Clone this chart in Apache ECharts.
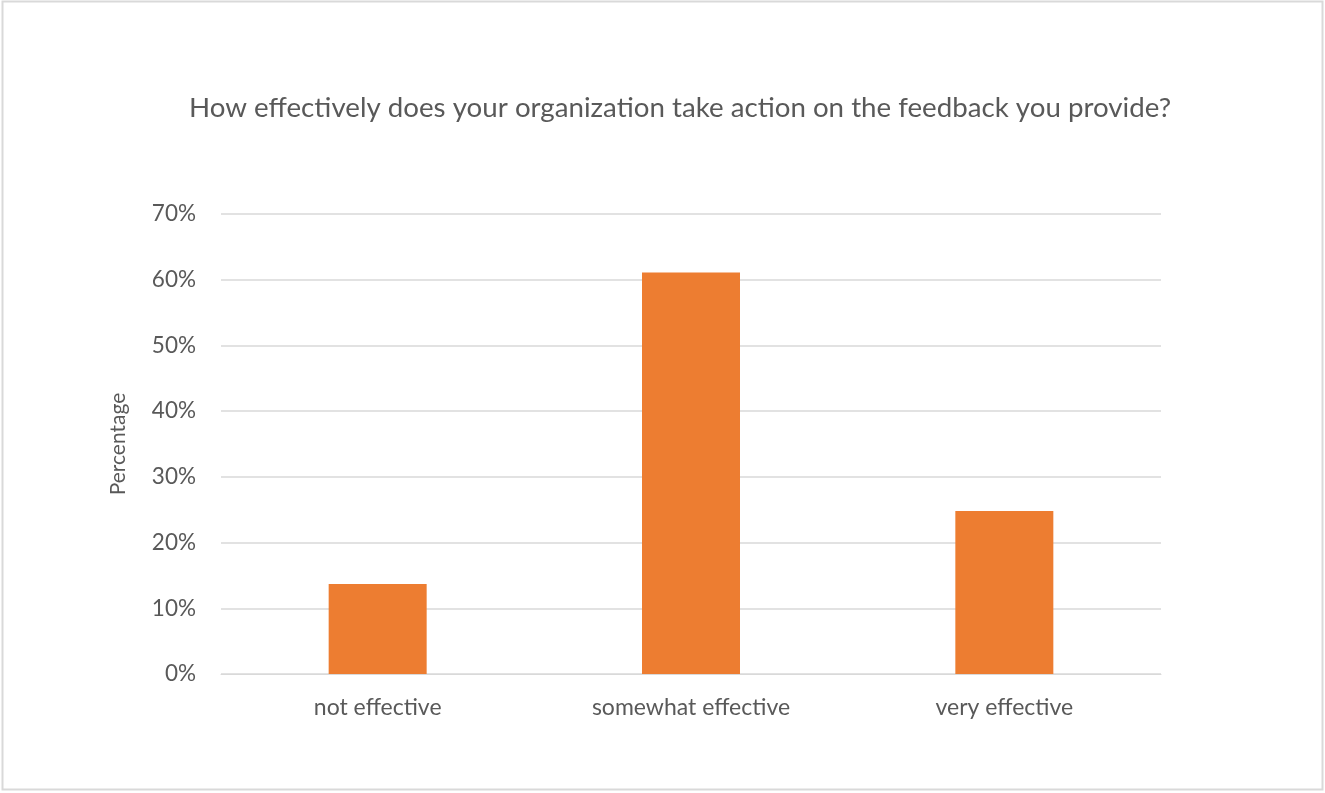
<!DOCTYPE html>
<html><head><meta charset="utf-8">
<script src="https://cdn.jsdelivr.net/npm/echarts@6/dist/echarts.min.js"></script>
<style>html,body{margin:0;padding:0;background:#fff}#c{width:1325px;height:793px}</style>
</head><body><div id="c"></div>
<script>
const categories = ['not effective', 'somewhat effective', 'very effective'];
const values = [13.7, 61.1, 24.8];
const titleText = 'How effectively does your organization take action on the feedback you provide?';
const yAxisName = 'Percentage';

const chart = echarts.init(document.getElementById('c'));
const font = 'Lato, "Open Sans", sans-serif';
chart.setOption({
  animation: false,
  title: {
    text: titleText, left: 189, top: 94, padding: 0,
    textStyle: {fontFamily: font, fontSize: 27.7, fontWeight: 'normal', color: '#595959'}
  },
  graphic: [{type: 'rect', shape: {x: 2.5, y: 1.5, width: 1320, height: 788},
    style: {fill: 'none', stroke: '#d9d9d9', lineWidth: 2}}],
  grid: {left: 221, right: 164, top: 214, bottom: 119},
  xAxis: {
    type: 'category', data: categories,
    axisLine: {lineStyle: {color: '#d9d9d9'}},
    axisTick: {show: false},
    axisLabel: {fontFamily: font, fontSize: 23, color: '#595959', margin: 22}
  },
  yAxis: {
    type: 'value', min: 0, max: 70, interval: 10,
    name: yAxisName, nameLocation: 'middle', nameGap: 92, nameRotate: 90,
    nameTextStyle: {fontFamily: font, fontSize: 21, color: '#595959'},
    axisLine: {show: false}, axisTick: {show: false},
    axisLabel: {formatter: '{value}%', fontFamily: font, fontSize: 22.5, color: '#595959', margin: 25},
    splitLine: {lineStyle: {color: '#d9d9d9', width: 1.5}}
  },
  series: [{type: 'bar', data: values, barWidth: 98, itemStyle: {color: '#ed7d31'}}]
});
</script></body></html>
